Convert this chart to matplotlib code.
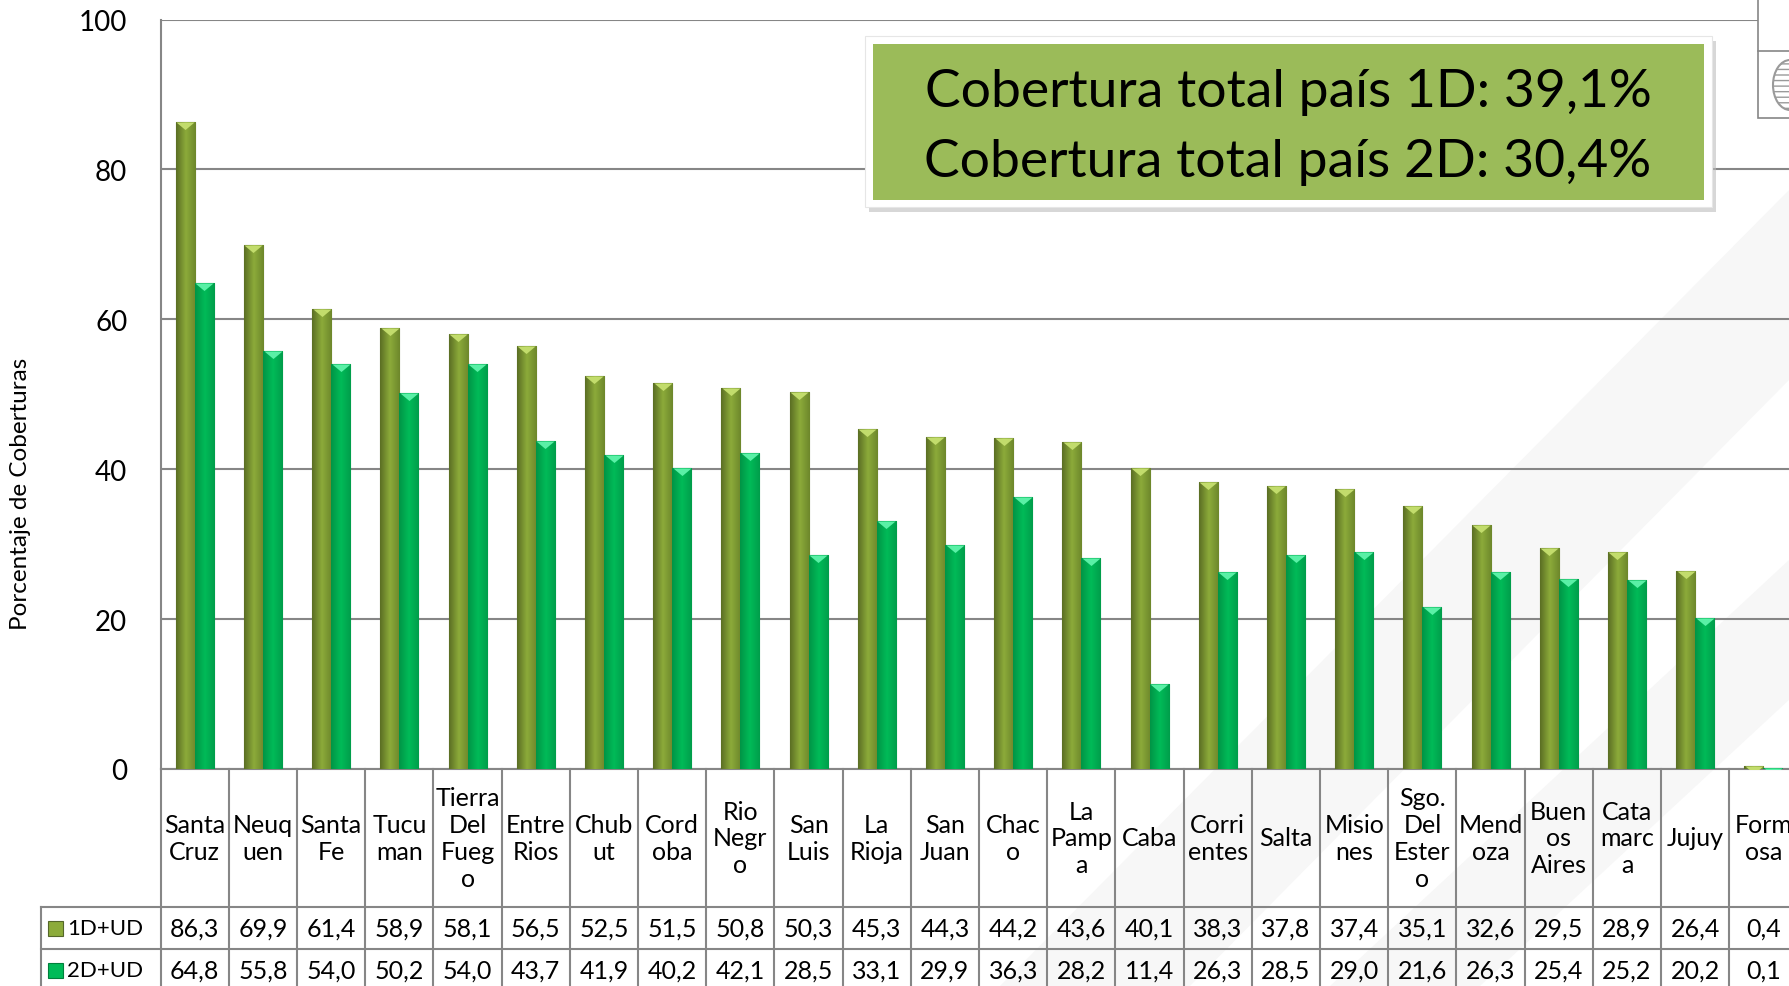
import matplotlib.pyplot as plt
import matplotlib.transforms as mtransforms
from matplotlib.colors import LinearSegmentedColormap
from matplotlib.patches import Rectangle, Polygon, Ellipse
from matplotlib.path import Path
import numpy as np

plt.rcParams['font.family'] = ['Lato', 'DejaVu Sans']

# data
categories = ['Santa\nCruz', 'Neuq\nuen', 'Santa\nFe', 'Tucu\nman', 'Tierra\nDel\nFueg\no',
              'Entre\nRios', 'Chub\nut', 'Cord\noba', 'Rio\nNegr\no', 'San\nLuis',
              'La\nRioja', 'San\nJuan', 'Chac\no', 'La\nPamp\na', 'Caba', 'Corri\nentes',
              'Salta', 'Misio\nnes', 'Sgo.\nDel\nEster\no', 'Mend\noza', 'Buen\nos\nAires',
              'Cata\nmarc\na', 'Jujuy', 'Form\nosa']
cob_1d = [86.3, 69.9, 61.4, 58.9, 58.1, 56.5, 52.5, 51.5, 50.8, 50.3, 45.3, 44.3,
          44.2, 43.6, 40.1, 38.3, 37.8, 37.4, 35.1, 32.6, 29.5, 28.9, 26.4, 0.4]
cob_2d = [64.8, 55.8, 54.0, 50.2, 54.0, 43.7, 41.9, 40.2, 42.1, 28.5, 33.1, 29.9,
          36.3, 28.2, 11.4, 26.3, 28.5, 29.0, 21.6, 26.3, 25.4, 25.2, 20.2, 0.1]
series_names = ['1D+UD', '2D+UD']
yticks = [0, 20, 40, 60, 80, 100]
total_lines = ['Cobertura total país 1D: 39,1%', 'Cobertura total país 2D: 30,4%']

W, H = 1790, 987
def fx(px): return px / W
def fy(py): return 1 - py / H

fig = plt.figure(figsize=(W / 100, H / 100), dpi=100)
fig.patch.set_facecolor('white')

# faint watermark shapes in the background
for poly in [[(1000, 987), (1190, 987), (1790, 380), (1790, 190)],
             [(1330, 987), (1480, 987), (1790, 700), (1790, 560)]]:
    fig.add_artist(Polygon([(fx(a), fy(b)) for a, b in poly], closed=True,
                           transform=fig.transFigure, facecolor='#f7f7f7',
                           edgecolor='none', zorder=0))

ax_left, ax_top, ax_bot = 160.7, 20.5, 770
cat_w = 68.2
n = len(categories)
ax = fig.add_axes([fx(ax_left), fy(ax_bot), cat_w * n / W, (ax_bot - ax_top) / H])
ax.set_facecolor('none')

grid_c = '#868686'
ax.set_yticks(yticks)
ax.set_yticklabels([str(t) for t in yticks], fontsize=20)
ax.tick_params(axis='y', length=0, pad=24)
ax.set_xticks([])
ax.yaxis.grid(True, color=grid_c, linewidth=1.5, zorder=0)
ax.set_axisbelow(True)
for s in ['top', 'right', 'bottom']:
    ax.spines[s].set_visible(False)
ax.spines['left'].set_color(grid_c)
ax.spines['left'].set_linewidth(1.5)

x = np.arange(n)
bw = 0.28
styles = [
    dict(grad=['#5b6e24', '#8cab3a', '#6d872b'], edge='#55672a', top='#c2dc6c'),
    dict(grad=['#009446', '#00bb58', '#009d4b'], edge='#00803c', top='#5af0a6'),
]
tri = Path([(-0.9, 0), (0.9, 0), (0, -0.75), (-0.9, 0)])
grad = np.linspace(0, 1, 64).reshape(1, -1)
for k, (vals, st) in enumerate(zip([cob_1d, cob_2d], styles)):
    xs = x + (k - 0.5) * bw
    bars = ax.bar(xs, vals, width=bw, color=st['grad'][1], edgecolor=st['edge'],
                  linewidth=0.8, zorder=3)
    cmap = LinearSegmentedColormap.from_list('g%d' % k, st['grad'])
    for b in bars:
        im = ax.imshow(grad, cmap=cmap, aspect='auto', zorder=3.5,
                       extent=[b.get_x(), b.get_x() + b.get_width(), 0, b.get_height()])
        im.set_clip_path(b)
    ax.plot(xs, vals, linestyle='none', marker=tri, markersize=13,
            markerfacecolor=st['top'], markeredgewidth=0, zorder=4)
ax.set_xlim(-0.5, n - 0.5)
ax.set_ylim(0, 100)

ax.set_ylabel('Porcentaje de Coberturas', fontsize=17.5)
ax.yaxis.set_label_coords(fx(31), 0.5, transform=fig.transFigure)

# data table below the plot
tr = mtransforms.blended_transform_factory(ax.transData, fig.transFigure)
row_y = [770, 908, 950, 992]
tab_left = 40.7
lkw = dict(color=grid_c, linewidth=1.5, clip_on=False)
ax.plot([-0.5, n - 0.5], [fy(770), fy(770)], transform=tr, **lkw)
for yy in row_y[1:3]:
    fig.add_artist(plt.Line2D([fx(tab_left), 1.05], [fy(yy), fy(yy)],
                              transform=fig.transFigure, **lkw))
fig.add_artist(plt.Line2D([fx(tab_left), fx(tab_left)], [fy(908), fy(992)],
                          transform=fig.transFigure, **lkw))
for b in np.arange(n + 1) - 0.5:
    ax.plot([b, b], [fy(770), fy(992)], transform=tr, **lkw)

for i, c in enumerate(categories):
    ax.text(i, fy(839), c, transform=tr, ha='center', va='center', fontsize=18,
            linespacing=1.2, clip_on=False)
for r, vals in enumerate([cob_1d, cob_2d]):
    yc = (row_y[r + 1] + row_y[r + 2]) / 2
    for i, v in enumerate(vals):
        ax.text(i, fy(yc), ('%.1f' % v).replace('.', ','), transform=tr,
                ha='center', va='center', fontsize=18, clip_on=False)
    fig.add_artist(Rectangle((fx(48), fy(yc + 7.5)), 15 / W, 15 / H,
                             transform=fig.transFigure, facecolor=styles[r]['grad'][1],
                             edgecolor=styles[r]['edge'], linewidth=0.8))
    fig.text(fx(67), fy(yc), series_names[r], ha='left', va='center', fontsize=16)

# summary box
fig.add_artist(Rectangle((fx(869), fy(213)), 847 / W, 171 / H, transform=fig.transFigure,
                         facecolor='#bdbdbd', edgecolor='none', alpha=0.6, zorder=5))
fig.add_artist(Rectangle((fx(865), fy(208)), 847 / W, 171 / H, transform=fig.transFigure,
                         facecolor='white', edgecolor='#e6e6e6', linewidth=0.8, zorder=6))
fig.add_artist(Rectangle((fx(873), fy(201)), 831 / W, 156 / H, transform=fig.transFigure,
                         facecolor='#9bbb59', edgecolor='none', zorder=7))
for j, line in enumerate(total_lines):
    fig.text(fx(1288), fy(107 + 70 * j), line, ha='center', va='baseline',
             fontsize=38.5, color='black', zorder=8)

# logo frame at the top right corner
fig.add_artist(Rectangle((fx(1758), fy(119)), 60 / W, 125 / H, transform=fig.transFigure,
                         facecolor='white', edgecolor=grid_c, linewidth=1.2, zorder=6))
fig.add_artist(plt.Line2D([fx(1758), 1.0], [fy(52), fy(52)], transform=fig.transFigure,
                          color=grid_c, linewidth=1.2, zorder=7))
fig.add_artist(Ellipse((fx(1790), fy(86)), 34 / W, 50 / H, transform=fig.transFigure,
                       facecolor='none', edgecolor='#9a9a9a', linewidth=1.5, hatch='---',
                       zorder=7))

fig.savefig('out.png', dpi=100)
